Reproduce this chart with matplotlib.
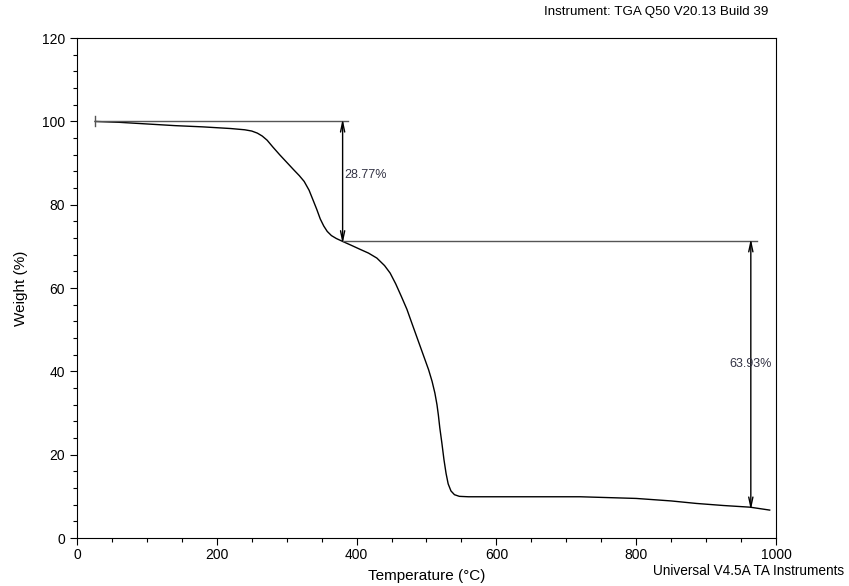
import numpy as np
import matplotlib
matplotlib.use('Agg')
import matplotlib.pyplot as plt
from matplotlib.ticker import MultipleLocator

plt.rcParams['font.family'] = ['Liberation Sans', 'DejaVu Sans']

# TGA curve
temp = [26, 60, 100, 140, 180, 220, 240, 250, 258, 265, 272, 280, 290, 300, 310,
        318, 325, 332, 338, 343, 348, 353, 358, 364, 371, 380, 392, 405, 417, 429,
        440, 448, 456, 464, 472, 479, 485, 491, 497, 503, 508, 512, 515, 517, 519,
        522, 525, 528, 531, 535, 540, 547, 560, 600, 720, 800, 850, 886, 925, 963, 991]
weight = [100.0, 99.8, 99.4, 99.0, 98.7, 98.3, 98.0, 97.7, 97.2, 96.5, 95.5, 93.9,
          92.0, 90.2, 88.4, 87.0, 85.6, 83.5, 81.0, 78.9, 76.6, 74.9, 73.6, 72.6,
          71.9, 71.2, 70.3, 69.3, 68.4, 67.2, 65.4, 63.6, 61.0, 58.0, 54.9, 51.6,
          48.8, 46.0, 43.2, 40.4, 37.6, 34.8, 32.0, 29.5, 26.5, 22.8, 18.8, 15.5,
          13.0, 11.3, 10.4, 10.0, 9.9, 9.9, 9.9, 9.5, 8.9, 8.3, 7.8, 7.4, 6.7]

step1_temp = 380
step1_top, step1_bottom = 100.0, 71.23
step2_temp = 964
step2_top, step2_bottom = 71.23, 7.30
step_labels = ['28.77%', '63.93%']

fig = plt.figure(figsize=(8.49, 5.86), dpi=100)
ax = fig.add_axes([0.0907, 0.0819, 0.8233, 0.853])

ax.plot(temp, weight, color='black', lw=1.0)

# step lines
gray = '#555555'
ax.plot([26, 388], [step1_top, step1_top], color=gray, lw=1.0)
ax.plot([26, 26], [98.8, 101.2], color=gray, lw=1.0)
ax.plot([step1_temp, 973], [step1_bottom, step1_bottom], color=gray, lw=1.0)

arrow = dict(arrowstyle='<->,head_length=0.7,head_width=0.15', color='black', lw=1.0,
             shrinkA=0, shrinkB=0)
ax.annotate('', xy=(step1_temp, step1_top + 0.6), xytext=(step1_temp, step1_bottom - 0.6),
            arrowprops=arrow)
ax.annotate('', xy=(step2_temp, step2_top + 0.6), xytext=(step2_temp, step2_bottom - 0.6),
            arrowprops=arrow)
ax.text(step1_temp + 3, 87.2, step_labels[0], fontsize=9, color='#333344',
        ha='left', va='center')
ax.text(step2_temp, 41.8, step_labels[1], fontsize=9, color='#333344',
        ha='center', va='center')

ax.set_xlim(0, 1000)
ax.set_ylim(0, 120)
ax.xaxis.set_major_locator(MultipleLocator(200))
ax.xaxis.set_minor_locator(MultipleLocator(50))
ax.yaxis.set_major_locator(MultipleLocator(20))
ax.yaxis.set_minor_locator(MultipleLocator(4))
ax.tick_params(which='major', direction='out', length=5, width=0.8, labelsize=10)
ax.tick_params(axis='x', which='major', pad=2)
ax.tick_params(which='minor', direction='out', length=3, width=0.8)
for s in ax.spines.values():
    s.set_linewidth(0.8)

ax.set_xlabel('Temperature (°C)', fontsize=11, labelpad=5)
ax.set_ylabel('Weight (%)', fontsize=11, labelpad=10)

fig.text(0.641, 0.975, 'Instrument: TGA Q50 V20.13 Build 39', fontsize=9.6,
         ha='left', va='baseline')
fig.text(0.769, 0.0256, 'Universal V4.5A TA Instruments', fontsize=9.8, ha='left',
         va='center')

fig.savefig('out.png', dpi=100)
